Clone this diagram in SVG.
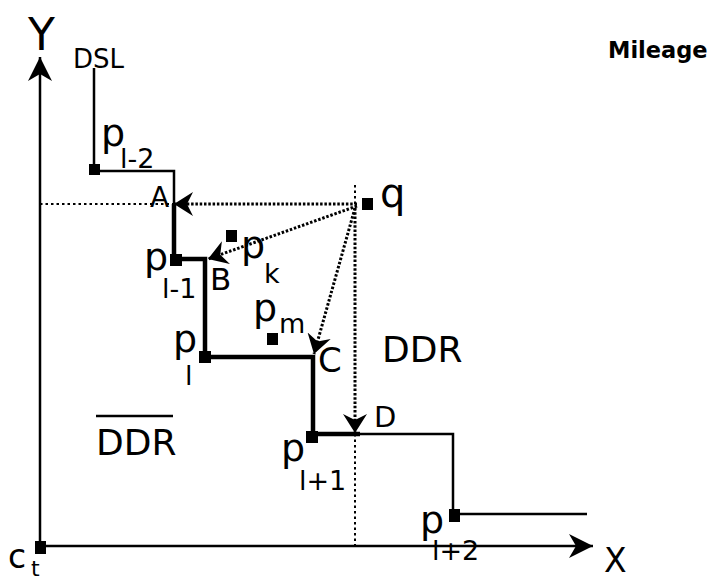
<svg xmlns="http://www.w3.org/2000/svg" width="713" height="582" viewBox="0 0 713 582">
<style>
text{font-family:"DejaVu Sans","Liberation Sans",sans-serif;fill:#000}
.p{font-size:38px}
.s{font-size:27px}
.lbl{font-size:30px}
.big{font-size:36px}
.thin{fill:none;stroke:#000;stroke-width:2.5}
.thick{fill:none;stroke:#000;stroke-width:4.5}
.ext{fill:none;stroke:#000;stroke-width:2;stroke-dasharray:2.5 3}
.arr{fill:none;stroke:#000;stroke-width:3;stroke-dasharray:2.5 1.8}
.sq{fill:#000}
</style>
<defs>
<marker id="axh" markerUnits="userSpaceOnUse" viewBox="0 0 24 24" markerWidth="24" markerHeight="24" refX="24" refY="12" orient="auto">
<path d="M24 12 L0 0 L7 12 L0 24 Z" fill="#000"/>
</marker>
<marker id="ah" markerUnits="userSpaceOnUse" viewBox="0 0 19 24" markerWidth="19" markerHeight="24" refX="19" refY="12" orient="auto">
<path d="M19 12 L0 0 L6 12 L0 24 Z" fill="#000"/>
</marker>
</defs>
<rect width="713" height="582" fill="#fff"/>

<g id="axes">
<path class="thin" d="M40 548 V57" marker-end="url(#axh)"/>
<path class="thin" d="M40 546 H593" marker-end="url(#axh)"/>
<text x="28" y="50" style="font-size:44px">Y</text>
<text x="604" y="572" style="font-size:33px">X</text>
</g>

<g id="connectors">
<path class="thin" d="M94 68 V171 H174 V204"/>
<path class="thick" d="M174 204 V259 H205 V357 H313 V434 H360"/>
<path class="thin" d="M360 434 H453 V515"/>
<path class="thin" d="M455 514 H587"/>
<path class="ext" d="M40 204 H174"/>
<path class="ext" d="M355 185 V205"/>
<path class="ext" d="M355 434 V546"/>
<path class="arr" d="M357 204 H174" marker-end="url(#ah)"/>
<path class="arr" d="M357 206 L208 259" marker-end="url(#ah)"/>
<path class="arr" d="M355 208 L314 354" marker-end="url(#ah)"/>
<path class="arr" d="M355 208 V433" marker-end="url(#ah)"/>
</g>

<g id="DSL"><text x="73" y="68" style="font-size:26px">DSL</text></g>
<g id="Mileage"><text x="608" y="58" style="font-size:22.5px;font-weight:bold">Mileage</text></g>

<g id="p_l-2"><rect class="sq" x="89" y="164" width="11" height="11"/><text class="p" x="101" y="146">p</text><text class="s" x="120" y="168">l-2</text></g>
<g id="p_l-1"><rect class="sq" x="170" y="254" width="12" height="12"/><text class="p" x="144" y="270">p</text><text class="s" x="162" y="298">l-1</text></g>
<g id="p_l"><rect class="sq" x="199" y="351" width="12" height="12"/><text class="p" x="173" y="352">p</text><text class="s" x="185" y="385">l</text></g>
<g id="p_l+1"><rect class="sq" x="306" y="431" width="12" height="12"/><text class="p" x="281" y="461">p</text><text class="s" x="299" y="490">l+1</text></g>
<g id="p_l+2"><rect class="sq" x="449" y="509" width="11" height="13"/><text class="p" x="420" y="533">p</text><text class="s" x="432" y="560">l+2</text></g>
<g id="p_k"><rect class="sq" x="226" y="230" width="11" height="12"/><text class="p" x="241" y="258">p</text><text class="s" x="264" y="283">k</text></g>
<g id="p_m"><rect class="sq" x="267" y="333" width="11" height="12"/><text class="p" x="253" y="321">p</text><text class="s" x="279" y="333">m</text></g>
<g id="q"><rect class="sq" x="362" y="198" width="11" height="12"/><text class="p" x="380" y="207" style="font-size:40px">q</text></g>
<g id="c_t"><rect class="sq" x="35" y="541" width="11" height="13"/><text x="8" y="568" style="font-size:33px">c</text><text x="31" y="576" style="font-size:22px">t</text></g>

<g id="A"><text class="lbl" x="150" y="207" style="font-size:28px">A</text></g>
<g id="B"><text class="lbl" x="210" y="290" style="font-size:31px">B</text></g>
<g id="C"><text class="lbl" x="318" y="372" style="font-size:34px">C</text></g>
<g id="D"><text class="lbl" x="374" y="427" style="font-size:29px">D</text></g>
<g id="DDR"><text class="big" x="382" y="362">DDR</text></g>
<g id="DDR_bar"><text class="big" x="96" y="455">DDR</text><line x1="96" y1="416" x2="173" y2="416" stroke="#000" stroke-width="2.5"/></g>
</svg>
